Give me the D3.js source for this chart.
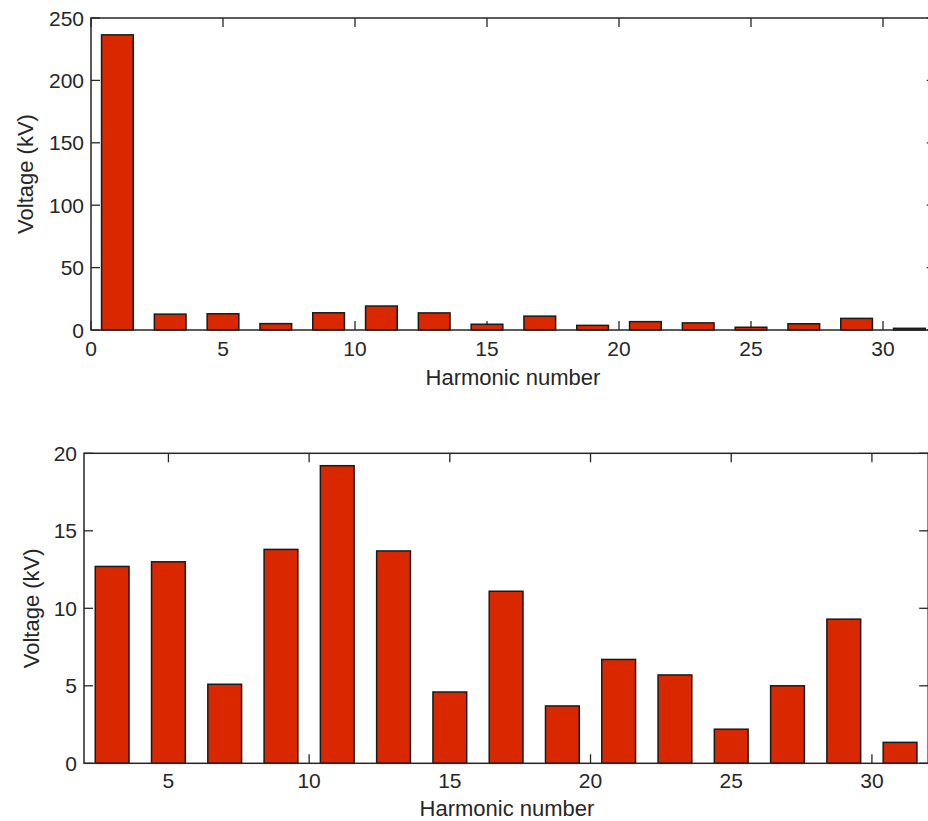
<!DOCTYPE html>
<html>
<head>
<meta charset="utf-8">
<script src="https://cdn.jsdelivr.net/npm/d3@7"></script>
<style>
  body { margin: 0; background: #fff; }
  svg { display: block; font-family: "Liberation Sans", Arial, sans-serif; }
</style>
</head>
<body>
<svg width="928" height="821"></svg>
<script>
// harmonic orders and measured voltages (kV)
const harmonics = [1, 3, 5, 7, 9, 11, 13, 15, 17, 19, 21, 23, 25, 27, 29, 31];
const voltages = [236.5, 12.7, 13.0, 5.1, 13.8, 19.2, 13.7, 4.6, 11.1, 3.7, 6.7, 5.7, 2.2, 5.0, 9.3, 1.35];

const topXTicks = [0, 5, 10, 15, 20, 25, 30];
const topYTicks = [0, 50, 100, 150, 200, 250];
const botXTicks = [5, 10, 15, 20, 25, 30];
const botYTicks = [0, 5, 10, 15, 20];

const allData = harmonics.map((h, i) => ({h: h, v: voltages[i]}));

let svg = d3.select("svg");
let barColor = "#d92800";
let ink = "#262626";

function drawPanel(cfg) {
  let x = d3.scaleLinear().domain(cfg.xDomain).range([cfg.left, cfg.right]);
  let y = d3.scaleLinear().domain(cfg.yDomain).range([cfg.bottom, cfg.top]);
  let g = svg.append("g");
  let tick = 9;

  // inward ticks on all four sides
  g.selectAll(".xtb").data(cfg.xTicks).enter().append("line")
    .attr("x1", d => x(d)).attr("x2", d => x(d))
    .attr("y1", cfg.bottom).attr("y2", cfg.bottom - tick)
    .attr("stroke", ink).attr("stroke-width", 1.3);
  g.selectAll(".xtt").data(cfg.xTicks).enter().append("line")
    .attr("x1", d => x(d)).attr("x2", d => x(d))
    .attr("y1", cfg.top).attr("y2", cfg.top + tick)
    .attr("stroke", ink).attr("stroke-width", 1.3);
  g.selectAll(".ytl").data(cfg.yTicks).enter().append("line")
    .attr("x1", cfg.left).attr("x2", cfg.left + tick)
    .attr("y1", d => y(d)).attr("y2", d => y(d))
    .attr("stroke", ink).attr("stroke-width", 1.3);
  g.selectAll(".ytr").data(cfg.yTicks).enter().append("line")
    .attr("x1", cfg.right).attr("x2", cfg.right - tick)
    .attr("y1", d => y(d)).attr("y2", d => y(d))
    .attr("stroke", ink).attr("stroke-width", 1.3);

  // bars
  let bw = x(1.2) - x(0);
  g.selectAll("rect.bar").data(cfg.data).enter().append("rect")
    .attr("class", "bar")
    .attr("x", d => x(d.h) - bw / 2)
    .attr("width", bw)
    .attr("y", d => y(d.v))
    .attr("height", d => y(0) - y(d.v))
    .attr("fill", barColor)
    .attr("stroke", "#1a1a1a")
    .attr("stroke-width", 1.5);

  // frame
  g.append("rect")
    .attr("x", cfg.left).attr("y", cfg.top)
    .attr("width", cfg.right - cfg.left).attr("height", cfg.bottom - cfg.top)
    .attr("fill", "none").attr("stroke", ink).attr("stroke-width", 1.5);

  // tick labels
  g.selectAll(".xl").data(cfg.xTicks).enter().append("text")
    .attr("x", d => x(d)).attr("y", cfg.bottom + cfg.xLabelDy)
    .attr("text-anchor", "middle")
    .attr("font-size", 21).attr("fill", ink)
    .text(d => d);
  g.selectAll(".yl").data(cfg.yTicks).enter().append("text")
    .attr("x", cfg.left - 7).attr("y", d => y(d))
    .attr("dy", "0.36em")
    .attr("text-anchor", "end")
    .attr("font-size", 21).attr("fill", ink)
    .text(d => d);

  // axis titles
  g.append("text")
    .attr("x", cfg.xTitleX).attr("y", cfg.bottom + cfg.xTitleDy)
    .attr("text-anchor", "middle")
    .attr("font-size", 22).attr("fill", ink)
    .text("Harmonic number");
  g.append("text")
    .attr("transform", "translate(" + cfg.yTitleX + "," + (cfg.top + cfg.bottom) / 2 + ") rotate(-90)")
    .attr("dy", "0.36em")
    .attr("text-anchor", "middle")
    .attr("font-size", 22).attr("fill", ink)
    .text("Voltage (kV)");
}

drawPanel({
  data: allData,
  xDomain: [0, 32], yDomain: [0, 250],
  left: 91, right: 935.8, top: 18, bottom: 330,
  xTicks: topXTicks, yTicks: topYTicks,
  xLabelDy: 26, xTitleDy: 55,
  xTitleX: 513, yTitleX: 25
});

drawPanel({
  data: allData.filter(d => d.h >= 3),
  xDomain: [2, 32], yDomain: [0, 20],
  left: 84, right: 928.2, top: 453.3, bottom: 763.3,
  xTicks: botXTicks, yTicks: botYTicks,
  xLabelDy: 25, xTitleDy: 52.5,
  xTitleX: 507, yTitleX: 31
});
</script>
</body>
</html>
